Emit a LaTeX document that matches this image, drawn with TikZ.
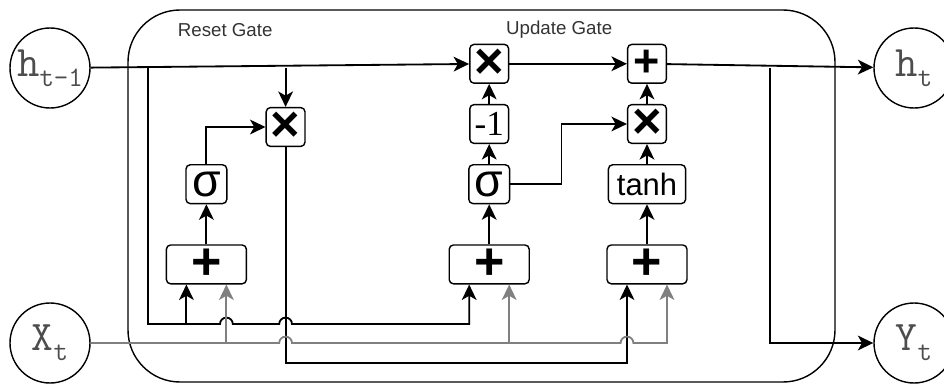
\documentclass[tikz,border=0pt]{standalone}
\usepackage{fontspec}
\setmainfont{Liberation Sans}
\newfontfamily\seriffont{Liberation Serif}
\usepackage{xcolor}
\usepackage{tikz}
\usetikzlibrary{arrows.meta,positioning,calc}
\definecolor{wiregray}{HTML}{808080}
\definecolor{labelgray}{HTML}{333333}
\definecolor{statetext}{HTML}{4D4D4D}
\newcommand{\fsz}[1]{\fontsize{#1}{#1}\selectfont}

\begin{document}
\begin{tikzpicture}[
  op/.style={draw, line width=1pt, rounded corners=3pt, minimum width=0.97cm, minimum height=0.97cm, inner sep=0pt},
  addop/.style={op, minimum width=2cm, font=\fsz{37}\bfseries},
  mulop/.style={op, font=\fsz{36}\bfseries},
  sigop/.style={op, minimum width=1.02cm, font=\fsz{33}},
  state/.style={draw, circle, line width=1pt, minimum size=2cm, inner sep=0pt, text=statetext, font=\ttfamily},
  gatelabel/.style={font=\fsz{13.3}, text=labelgray},
  flow/.style={-{Stealth[length=11pt,width=10.5pt,inset=3pt]}, line width=1.3pt},
  flowg/.style={flow, wiregray}
]
  \useasboundingbox (0,0) rectangle (23.6,9.6);

  % cell frame
  \node[draw, line width=1pt, rounded corners=1.3cm, minimum width=17.675cm, minimum height=9.3cm] (cell) at (12.0375,4.7) {};
  \node[gatelabel] (rstlbl) at (5.63,8.85) {Reset Gate};
  \node[gatelabel] (updlbl) at (13.98,8.85) {Update Gate};

  % inputs and outputs
  \node[state] (ht1) at (1.25,7.9)  {{\fsz{31}h}{\fsz{20}\raisebox{-7pt}{t-1}}};
  \node[state] (xt)  at (1.25,1.025) {{\fsz{30}X}{\fsz{20}\raisebox{-7pt}{t}}};
  \node[state] (ht)  at (22.85,7.9)  {{\fsz{31}h}{\fsz{20}\raisebox{-7pt}{t}}};
  \node[state] (yt)  at (22.85,1.025) {{\fsz{30}Y}{\fsz{20}\raisebox{-7pt}{t}}};

  % reset gate
  \node[addop] (rstadd) at (5.16,2.99) {+};
  \node[sigop, above=1cm of rstadd] (rstsig) {σ};
  \node[mulop] (rstmul) at (7.14,6.425) {×};

  % update gate
  \node[addop] (updadd) at (12.23,2.99) {+};
  \node[sigop, above=1cm of updadd] (updsig) {σ};
  \node[op, above=0.5cm of updsig, font=\seriffont\fsz{25}] (updneg) {-1};
  \node[mulop, above=0.5cm of updneg] (updmul) {×};

  % candidate and new state
  \node[addop] (candadd) at (16.175,2.99) {+};
  \node[op, minimum width=1.93cm, font=\fsz{22}, above=1cm of candadd] (outtanh) {tanh};
  \node[mulop, above=0.5cm of outtanh] (outmul) {×};
  \node[mulop, above=0.5cm of outmul, font=\fsz{32}\bfseries] (outadd) {+};

  \coordinate (hsplit) at (3.7,7.9);
  \coordinate (hbus)   at (3.7,1.5);
  \coordinate (rbus)   at (7.14,0.525);
  \coordinate (ysplit) at (19.25,7.9);
  \coordinate (rin1) at ([xshift=-0.5cm]rstadd.south);
  \coordinate (rin2) at ([xshift=0.5cm]rstadd.south);
  \coordinate (uin1) at ([xshift=-0.5cm]updadd.south);
  \coordinate (uin2) at ([xshift=0.5cm]updadd.south);
  \coordinate (cin1) at ([xshift=-0.5cm]candadd.south);
  \coordinate (cin2) at ([xshift=0.5cm]candadd.south);

  % main line
  \draw[flow] (ht1) -- (updmul);
  \draw[flow] (updmul) -- (outadd);
  \draw[flow] (outadd) -- (ht);
  \draw[flow] (ysplit) |- (yt);

  % reset path
  \draw[flow] (rstmul |- ht1) -- (rstmul);
  \draw[flow] (rstsig) |- (rstmul);
  \draw[flow] (rstadd) -- (rstsig);
  \draw[flow] (rstmul) |- (rbus) -| (cin1);

  % update path
  \draw[flow] (updadd) -- (updsig);
  \draw[flow] (updsig) -- (updneg);
  \draw[flow] (updneg) -- (updmul);
  \draw[flow] (updsig.east) -- ++(1.28,0) |- (outmul);

  % candidate path
  \draw[flow] (candadd) -- (outtanh);
  \draw[flow] (outtanh) -- (outmul);
  \draw[flow] (outmul) -- (outadd);

  % h_{t-1} bus
  \draw[flow] (hsplit) |- ($(rin2 |- hbus)-(0.16,0)$)
    arc[start angle=180, end angle=0, radius=0.16cm]
    -- ($(rstmul |- hbus)-(0.16,0)$)
    arc[start angle=180, end angle=0, radius=0.16cm]
    -| (uin1);
  \draw[flow] (rin1 |- hbus) -- (rin1);

  % x_t bus
  \draw[flowg] (xt) -- ($(rstmul |- xt)-(0.16,0)$)
    arc[start angle=180, end angle=0, radius=0.16cm]
    -- ($(cin1 |- xt)-(0.16,0)$)
    arc[start angle=180, end angle=0, radius=0.16cm]
    -| (cin2);
  \draw[flowg] (rin2 |- xt) -- (rin2);
  \draw[flowg] (uin2 |- xt) -- (uin2);

\end{tikzpicture}
\end{document}
